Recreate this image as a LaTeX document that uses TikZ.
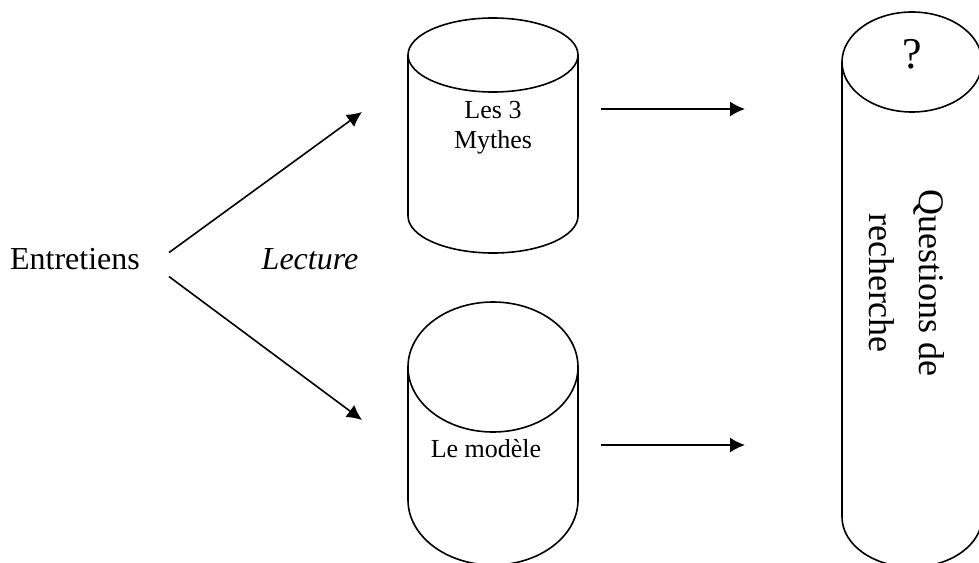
\documentclass[tikz,border=0pt]{standalone}
\usepackage{fontspec}
\setmainfont{Liberation Serif}
\usetikzlibrary{arrows.meta}

% outline of a drum around an (empty) body node
\newcommand{\drawdrum}[3]{%
  \draw[drum] ([yshift=-#3]#1.north) ellipse [x radius=#2, y radius=#3];
  \draw[drum] ([yshift=-#3]#1.north west) -- ([yshift=#3]#1.south west)
     arc [start angle=180, end angle=360, x radius=#2, y radius=#3]
     -- ([yshift=-#3]#1.north east);}

\begin{document}
\begin{tikzpicture}[x=1pt,y=1pt,
  drum/.style={line width=1.6pt},
  body/.style={rectangle,inner sep=0pt,outer sep=0pt},
  flow/.style={line width=1.6pt,-{Latex[length=15pt,width=15pt]}},
  big/.style={font=\fontsize{32}{36}\selectfont,inner sep=0pt},
  small/.style={font=\fontsize{26}{30}\selectfont,inner sep=0pt,align=center},
  huge/.style={font=\fontsize{36}{50}\selectfont,inner sep=0pt,align=center}]

  \useasboundingbox (0,0) rectangle (979,-562);
  \clip (0,0) rectangle (979,-562);

  % Drums
  \node[body, minimum width=170pt, minimum height=235pt] (mythes) at (493,-135.5) {};
  \node[body, minimum width=170pt, minimum height=263pt] (modele) at (493,-433.5) {};
  \node[body, minimum width=140pt, minimum height=555pt] (questions) at (912,-289.5) {};

  \foreach \n/\rx/\ry in {mythes/85/37, modele/85/65, questions/70/50}
      \drawdrum{\n}{\rx}{\ry};

  % Labels
  \node[big, anchor=base east] (entretiens) at (140,-269) {Entretiens};
  \node[big, anchor=base] (lecture) at (310,-269) {\itshape Lecture};
  \node[small] (mytheslbl) at (493,-128) {Les 3\\Mythes};
  \node[small] (modelelbl) at (486,-449) {Le modèle};
  \node[huge, font=\fontsize{44}{50}\selectfont] (qmark) at (912,-54) {?};
  \node[huge, rotate=-90] (questionslbl) at (907,-283) {Questions de\\recherche};

  % Flows
  \draw[flow] ([shift={(29,6)}]entretiens.east) -- ([shift={(-46,23.5)}]mythes.west);
  \draw[flow] ([shift={(29,-18)}]entretiens.east) -- ([shift={(-46,13.5)}]modele.west);
  \draw[flow] ([shift={(23,26.5)}]mythes.east) -- ([shift={(-97,180.5)}]questions.west);
  \draw[flow] ([shift={(23,-11.5)}]modele.east) -- ([shift={(-97,-155.5)}]questions.west);
\end{tikzpicture}
\end{document}
